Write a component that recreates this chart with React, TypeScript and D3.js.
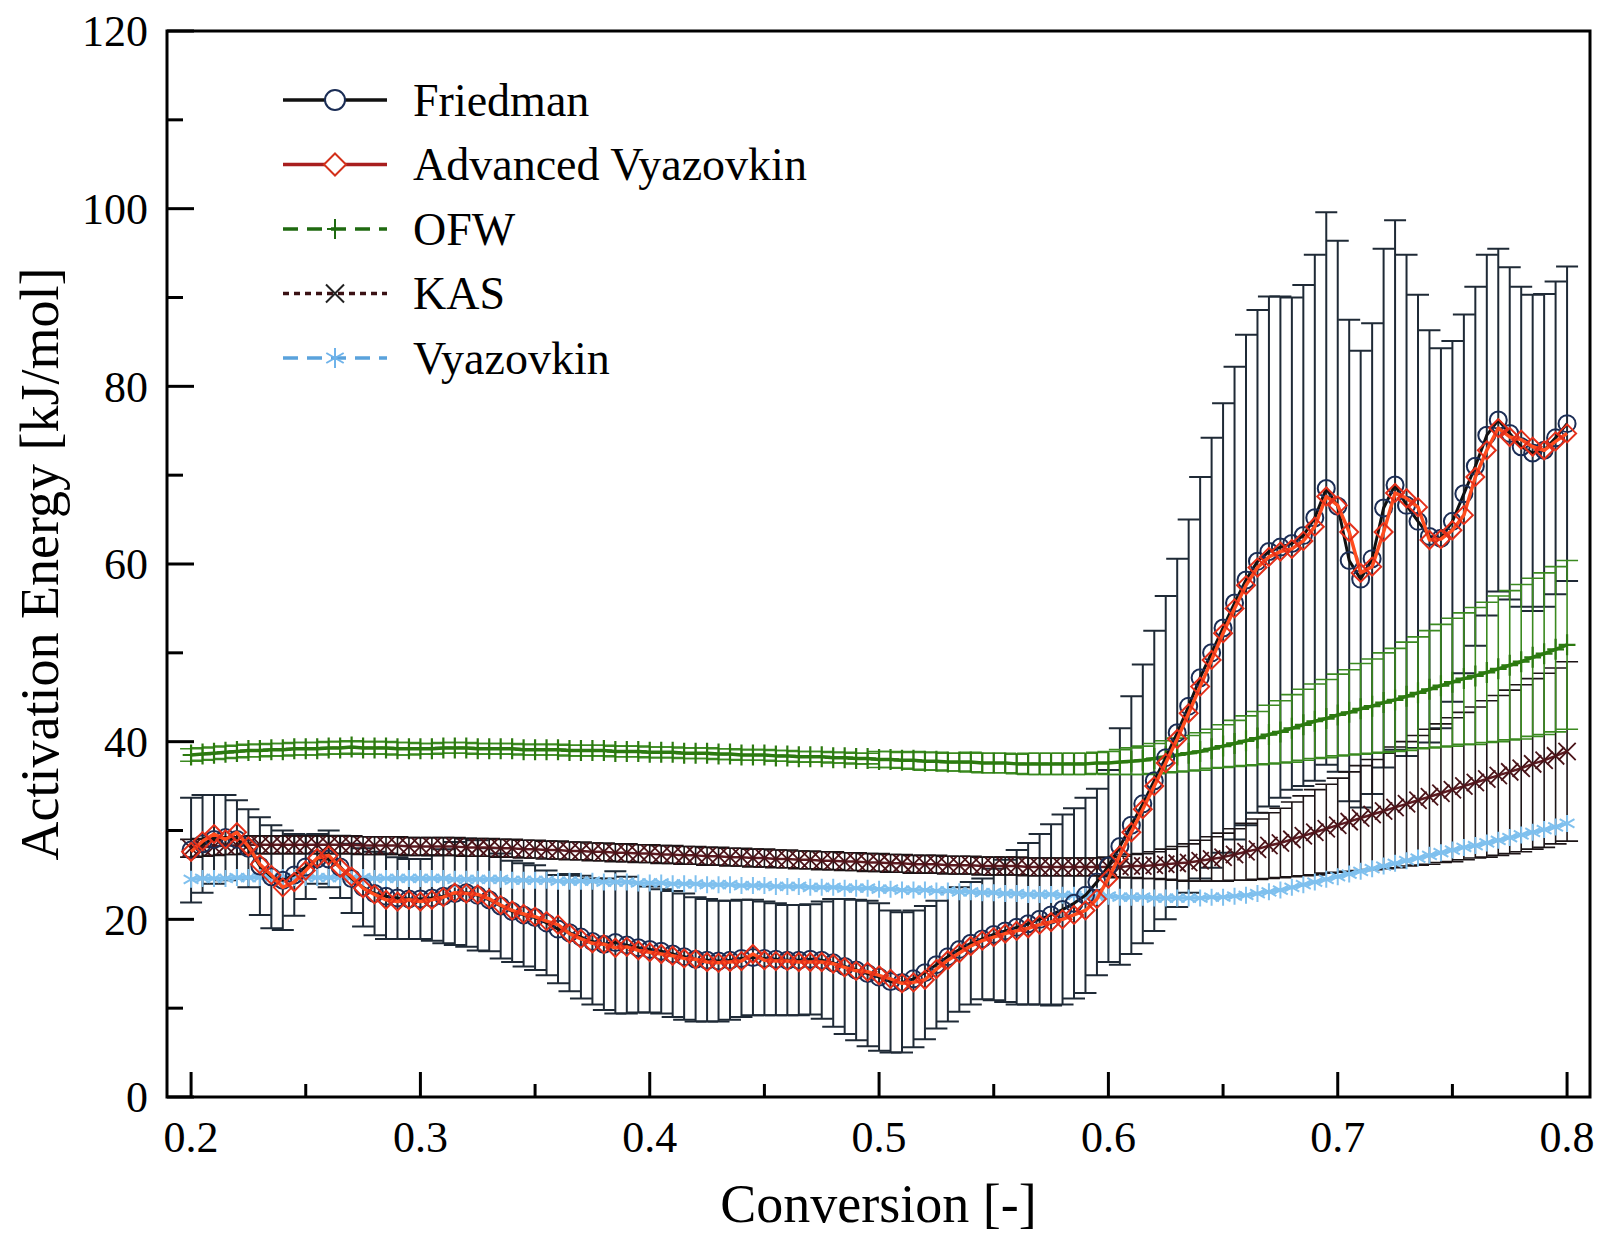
import * as d3 from "d3";
import React, { useRef, useEffect } from "react";

// conversion grid (every 0.005)
const conversion = [
  0.200, 0.205, 0.210, 0.215, 0.220, 0.225, 0.230, 0.235, 0.240, 0.245,
  0.250, 0.255, 0.260, 0.265, 0.270, 0.275, 0.280, 0.285, 0.290, 0.295,
  0.300, 0.305, 0.310, 0.315, 0.320, 0.325, 0.330, 0.335, 0.340, 0.345,
  0.350, 0.355, 0.360, 0.365, 0.370, 0.375, 0.380, 0.385, 0.390, 0.395,
  0.400, 0.405, 0.410, 0.415, 0.420, 0.425, 0.430, 0.435, 0.440, 0.445,
  0.450, 0.455, 0.460, 0.465, 0.470, 0.475, 0.480, 0.485, 0.490, 0.495,
  0.500, 0.505, 0.510, 0.515, 0.520, 0.525, 0.530, 0.535, 0.540, 0.545,
  0.550, 0.555, 0.560, 0.565, 0.570, 0.575, 0.580, 0.585, 0.590, 0.595,
  0.600, 0.605, 0.610, 0.615, 0.620, 0.625, 0.630, 0.635, 0.640, 0.645,
  0.650, 0.655, 0.660, 0.665, 0.670, 0.675, 0.680, 0.685, 0.690, 0.695,
  0.700, 0.705, 0.710, 0.715, 0.720, 0.725, 0.730, 0.735, 0.740, 0.745,
  0.750, 0.755, 0.760, 0.765, 0.770, 0.775, 0.780, 0.785, 0.790, 0.795,
  0.800,
];

const friedman = [
  27.8, 28.5, 29.0, 29.2, 29.0, 28.0, 26.0, 24.8, 24.4, 25.0,
  25.9, 26.8, 26.8, 25.9, 24.6, 23.6, 22.9, 22.6, 22.4, 22.3,
  22.3, 22.4, 22.6, 22.9, 23.0, 22.7, 22.2, 21.5, 20.9, 20.5,
  20.2, 19.6, 18.9, 18.5, 18.0, 17.5, 17.2, 17.4, 17.1, 16.8,
  16.6, 16.4, 16.1, 15.8, 15.5, 15.4, 15.3, 15.4, 15.6, 15.7,
  15.6, 15.5, 15.4, 15.4, 15.5, 15.4, 15.1, 14.7, 14.3, 13.9,
  13.5, 13.0, 12.9, 13.3, 14.0, 14.9, 15.8, 16.6, 17.3, 17.8,
  18.3, 18.7, 19.1, 19.5, 20.0, 20.5, 21.1, 21.8, 22.7, 24.2,
  26.0, 28.2, 30.6, 33.0, 35.6, 38.2, 41.0, 44.0, 47.2, 50.0,
  52.8, 55.6, 58.2, 60.3, 61.4, 61.9, 62.3, 63.2, 65.2, 68.5,
  66.5, 60.4, 58.3, 60.6, 66.3, 68.9, 66.6, 64.8, 63.1, 62.9,
  64.8, 67.9, 71.0, 74.5, 76.2, 74.7, 73.2, 72.5, 72.8, 74.2,
  75.8,
];

const friedmanErr = [
  5.9, 5.5, 5.0, 4.8, 4.4, 4.4, 5.5, 5.8, 5.6, 4.6,
  3.6, 2.8, 3.2, 3.5, 3.9, 4.4, 4.7, 4.8, 4.6, 4.5,
  4.5, 4.8, 5.3, 5.8, 6.1, 6.2, 5.8, 5.9, 5.7, 5.8,
  5.9, 5.9, 6.1, 6.6, 6.9, 7.1, 7.4, 8.0, 7.7, 7.3,
  7.1, 7.0, 7.1, 7.1, 7.0, 6.9, 6.8, 6.7, 6.6, 6.5,
  6.4, 6.3, 6.2, 6.2, 6.2, 6.6, 7.2, 7.6, 7.9, 8.2,
  8.3, 8.0, 7.9, 7.7, 7.5, 7.2, 7.3, 7.0, 6.9, 6.8,
  7.4, 8.0, 8.7, 9.1, 9.6, 10.2, 10.7, 10.7, 11.0, 10.5,
  10.8, 13.3, 14.5, 15.7, 16.9, 18.2, 19.6, 21.0, 22.6, 24.2,
  25.3, 26.6, 27.6, 28.3, 28.7, 28.2, 27.7, 28.2, 29.6, 31.1,
  29.9, 27.1, 25.7, 26.5, 29.2, 29.8, 28.2, 25.5, 23.2, 21.4,
  20.3, 20.2, 20.2, 20.3, 19.3, 18.7, 18.0, 17.8, 17.6, 17.6,
  17.7,
];

const advVyazovkin = [
  27.6, 28.8, 29.6, 29.0, 29.8, 28.2, 26.2, 25.0, 23.6, 24.2,
  25.5, 26.9, 27.2, 25.8, 24.8, 23.5, 22.8, 22.2, 22.0, 22.2,
  22.0, 22.2, 22.5, 23.0, 22.9, 22.8, 22.3, 21.6, 21.0, 20.6,
  20.3, 19.8, 19.4, 18.4, 17.8, 17.3, 17.2, 16.8, 16.9, 16.5,
  16.3, 16.1, 15.9, 15.6, 15.5, 15.2, 15.1, 15.2, 15.3, 16.1,
  15.4, 15.3, 15.3, 15.2, 15.2, 15.2, 15.0, 14.6, 14.2, 14.1,
  13.7, 13.3, 12.8, 12.9, 13.2, 14.4, 15.4, 16.2, 17.0, 17.6,
  18.0, 18.4, 18.7, 19.0, 19.4, 19.7, 20.0, 20.5, 21.0, 22.3,
  24.6, 27.2, 29.8, 32.4, 35.0, 37.6, 40.3, 43.2, 46.2, 49.2,
  52.2, 55.0, 57.6, 59.6, 60.8, 61.4, 61.7, 62.6, 64.2, 67.6,
  66.6, 63.6, 59.0, 59.7, 63.6, 68.0, 67.4, 66.4, 62.7, 62.8,
  63.8, 65.5, 69.8, 72.8, 75.3, 74.3, 74.0, 73.2, 72.8, 73.8,
  74.7,
];

const ofw = [
  38.5, 38.6, 38.7, 38.8, 38.9, 39.0, 39.0, 39.1, 39.1, 39.2,
  39.2, 39.2, 39.3, 39.3, 39.4, 39.3, 39.3, 39.3, 39.2, 39.2,
  39.2, 39.2, 39.3, 39.3, 39.3, 39.2, 39.2, 39.2, 39.2, 39.1,
  39.1, 39.1, 39.1, 39.0, 39.0, 39.0, 39.0, 38.9, 38.9, 38.9,
  38.8, 38.8, 38.8, 38.7, 38.7, 38.7, 38.6, 38.6, 38.5, 38.5,
  38.5, 38.4, 38.4, 38.3, 38.3, 38.3, 38.2, 38.2, 38.1, 38.1,
  38.0, 38.0, 37.9, 37.9, 37.8, 37.8, 37.7, 37.7, 37.7, 37.6,
  37.6, 37.6, 37.5, 37.5, 37.5, 37.5, 37.5, 37.5, 37.5, 37.6,
  37.6, 37.7, 37.8, 37.9, 38.1, 38.3, 38.5, 38.7, 38.9, 39.2,
  39.5, 39.8, 40.1, 40.4, 40.8, 41.1, 41.5, 41.9, 42.3, 42.6,
  43.0, 43.3, 43.7, 44.0, 44.4, 44.7, 45.1, 45.5, 45.9, 46.3,
  46.7, 47.1, 47.4, 47.8, 48.2, 48.6, 49.0, 49.5, 49.9, 50.4,
  50.9,
];

const ofwErr = [
  0.7, 0.7, 0.7, 0.7, 0.7, 0.7, 0.7, 0.7, 0.7, 0.7,
  0.7, 0.7, 0.7, 0.7, 0.7, 0.7, 0.7, 0.7, 0.7, 0.7,
  0.6, 0.6, 0.6, 0.6, 0.6, 0.6, 0.6, 0.6, 0.6, 0.6,
  0.6, 0.6, 0.6, 0.6, 0.6, 0.6, 0.6, 0.6, 0.6, 0.6,
  0.6, 0.6, 0.6, 0.6, 0.6, 0.6, 0.6, 0.6, 0.6, 0.6,
  0.6, 0.6, 0.6, 0.6, 0.6, 0.6, 0.6, 0.6, 0.6, 0.6,
  0.9, 0.9, 0.9, 1.0, 1.0, 1.0, 1.0, 1.0, 1.1, 1.1,
  1.1, 1.1, 1.1, 1.2, 1.2, 1.2, 1.2, 1.2, 1.2, 1.2,
  1.3, 1.4, 1.5, 1.6, 1.7, 1.8, 1.9, 2.0, 2.1, 2.2,
  2.4, 2.6, 2.8, 3.0, 3.3, 3.5, 3.8, 4.0, 4.2, 4.4,
  4.6, 4.8, 5.1, 5.3, 5.6, 5.8, 6.1, 6.3, 6.6, 6.9,
  7.2, 7.4, 7.7, 7.9, 8.2, 8.4, 8.7, 8.9, 9.1, 9.3,
  9.5,
];

const kas = [
  28.0, 28.1, 28.2, 28.3, 28.3, 28.4, 28.4, 28.4, 28.4, 28.4,
  28.4, 28.4, 28.4, 28.4, 28.4, 28.3, 28.3, 28.3, 28.3, 28.2,
  28.2, 28.2, 28.2, 28.2, 28.1, 28.1, 28.1, 28.0, 28.0, 27.9,
  27.9, 27.8, 27.8, 27.7, 27.7, 27.6, 27.6, 27.5, 27.5, 27.4,
  27.4, 27.3, 27.3, 27.2, 27.2, 27.1, 27.1, 27.0, 27.0, 26.9,
  26.9, 26.8, 26.8, 26.7, 26.7, 26.6, 26.6, 26.5, 26.5, 26.4,
  26.4, 26.3, 26.3, 26.2, 26.2, 26.2, 26.1, 26.1, 26.1, 26.0,
  26.0, 26.0, 26.0, 25.9, 25.9, 25.9, 25.9, 25.9, 25.9, 25.9,
  25.9, 25.9, 26.0, 26.0, 26.1, 26.2, 26.3, 26.4, 26.6, 26.8,
  27.0, 27.3, 27.6, 27.9, 28.3, 28.6, 29.0, 29.4, 29.8, 30.2,
  30.6, 31.0, 31.4, 31.8, 32.2, 32.6, 33.0, 33.4, 33.8, 34.2,
  34.6, 35.0, 35.4, 35.8, 36.2, 36.6, 37.0, 37.5, 37.9, 38.4,
  38.9,
];

const kasErr = [
  1.0, 1.0, 1.0, 1.0, 1.0, 1.0, 1.0, 1.0, 1.0, 1.0,
  1.0, 1.0, 1.0, 1.0, 1.0, 1.0, 1.0, 1.0, 1.0, 1.0,
  1.0, 1.0, 1.0, 1.0, 1.0, 1.0, 1.0, 1.0, 1.0, 1.0,
  1.0, 1.0, 1.0, 1.0, 1.0, 1.0, 1.0, 1.0, 1.0, 1.0,
  1.0, 1.0, 1.0, 1.0, 1.0, 1.0, 1.0, 1.0, 1.0, 1.0,
  1.0, 1.0, 1.0, 1.0, 1.0, 1.0, 1.0, 1.0, 1.0, 1.0,
  1.0, 1.0, 1.0, 1.0, 1.0, 1.0, 1.0, 1.0, 1.0, 1.0,
  1.0, 1.0, 1.0, 1.0, 1.0, 1.0, 1.0, 1.0, 1.0, 1.0,
  1.1, 1.2, 1.3, 1.4, 1.5, 1.7, 1.9, 2.1, 2.3, 2.5,
  2.7, 2.9, 3.2, 3.4, 3.7, 3.9, 4.2, 4.5, 4.8, 5.0,
  5.3, 5.6, 5.9, 6.2, 6.5, 6.8, 7.0, 7.3, 7.6, 7.8,
  8.1, 8.3, 8.5, 8.8, 9.0, 9.2, 9.4, 9.6, 9.8, 9.9,
  10.1,
];

const vyazovkin = [
  24.5, 24.6, 24.6, 24.6, 24.7, 24.7, 24.7, 24.7, 24.7, 24.7,
  24.7, 24.7, 24.7, 24.7, 24.7, 24.7, 24.6, 24.6, 24.6, 24.6,
  24.6, 24.6, 24.6, 24.5, 24.5, 24.5, 24.5, 24.5, 24.4, 24.4,
  24.4, 24.4, 24.3, 24.3, 24.3, 24.3, 24.2, 24.2, 24.2, 24.1,
  24.1, 24.1, 24.0, 24.0, 24.0, 23.9, 23.9, 23.9, 23.8, 23.8,
  23.8, 23.7, 23.7, 23.7, 23.6, 23.6, 23.6, 23.5, 23.5, 23.5,
  23.4, 23.4, 23.3, 23.3, 23.3, 23.2, 23.2, 23.1, 23.1, 23.0,
  23.0, 22.9, 22.9, 22.8, 22.8, 22.8, 22.7, 22.7, 22.6, 22.6,
  22.6, 22.5, 22.5, 22.5, 22.4, 22.4, 22.4, 22.4, 22.4, 22.5,
  22.5, 22.6, 22.7, 22.9, 23.1, 23.3, 23.6, 23.9, 24.2, 24.5,
  24.8, 25.1, 25.4, 25.7, 26.0, 26.3, 26.6, 26.9, 27.2, 27.5,
  27.8, 28.1, 28.3, 28.6, 28.9, 29.2, 29.5, 29.8, 30.1, 30.4,
  30.8,
];

const xTicks = [0.2, 0.3, 0.4, 0.5, 0.6, 0.7, 0.8];
const xMinorTicks = [0.25, 0.35, 0.45, 0.55, 0.65, 0.75];
const yTicks = [0, 20, 40, 60, 80, 100, 120];
const yMinorTicks = [10, 30, 50, 70, 90, 110];
const legendNames = ["Friedman", "Advanced Vyazovkin", "OFW", "KAS", "Vyazovkin"];

const FONT = "'Liberation Serif', 'Times New Roman', serif";

function markerPath(kind: string, r: number): string {
  switch (kind) {
    case "circle":
      return `M${r},0A${r},${r} 0 1,1 ${-r},0A${r},${r} 0 1,1 ${r},0Z`;
    case "diamond":
      return `M0,${-r}L${r},0L0,${r}L${-r},0Z`;
    case "plus":
      return `M${-r * 0.8},0H${r * 0.8}M0,${-r}V${r}`;
    case "times": {
      const a = r * 0.75;
      return `M${-a},${-a}L${a},${a}M${-a},${a}L${a},${-a}`;
    }
    default: {
      const a = r * 0.87, b = r * 0.5;
      return `M0,${-r}V${r}M${-a},${-b}L${a},${b}M${-a},${b}L${a},${-b}`;
    }
  }
}

const App: React.FC = () => {
  const svgRef = useRef<SVGSVGElement>(null);

  useEffect(() => {
    const width = 1608;
    const height = 1243;
    const left = 167, right = 1590, top = 31, bottom = 1097;

    const svg = d3.select(svgRef.current);
    svg.selectAll("*").remove();
    svg.attr("width", width).attr("height", height)
      .attr("viewBox", `0 0 ${width} ${height}`);

    svg.append("rect").attr("width", width).attr("height", height).attr("fill", "white");

    const x = d3.scaleLinear().domain([0.1895, 0.81]).range([left, right]);
    const y = d3.scaleLinear().domain([0, 120]).range([bottom, top]);

    const series = [
      { values: ofw, line: "#2c7a10", marker: "#2c7a10", shape: "plus", r: 10.5, lw: 3.5, mw: 2.2 },
      { values: kas, line: "#5c1a20", marker: "#4a1419", shape: "times", r: 11.5, lw: 2.5, mw: 1.8 },
      { values: vyazovkin, line: "#7fc0ee", marker: "#7fc0ee", shape: "asterisk", r: 8.5, lw: 3.5, mw: 2 },
      { values: friedman, line: "#111111", marker: "#1b2d55", shape: "circle", r: 8.5, lw: 3, mw: 2 },
      { values: advVyazovkin, line: "#ff4d1f", marker: "#e4301a", shape: "diamond", r: 9, lw: 3.5, mw: 2 },
    ];

    const errorBars = (vals: number[], errs: number[], color: string, w: number) => {
      const g = svg.append("g").attr("stroke", color).attr("stroke-width", w).attr("fill", "none");
      g.selectAll("path")
        .data(conversion.map((c, i) => ({ c, v: vals[i], e: errs[i] })))
        .join("path")
        .attr("d", d => {
          const px = x(d.c), y1 = y(d.v + d.e), y0 = y(d.v - d.e);
          return `M${px},${y0}V${y1}M${px - 11},${y1}H${px + 11}M${px - 11},${y0}H${px + 11}`;
        });
    };

    // error bars
    errorBars(friedman, friedmanErr, "#1f2a36", 2);
    errorBars(kas, kasErr, "#1c1416", 1.6);
    errorBars(ofw, ofwErr, "#3b8a20", 1.6);

    const line = (vals: number[]) => d3.line<number>()
      .x((_, i) => x(conversion[i]))
      .y(d => y(d))(vals);

    series.forEach(s => {
      svg.append("path")
        .attr("d", line(s.values))
        .attr("fill", "none")
        .attr("stroke", s.line)
        .attr("stroke-width", s.lw)
        .attr("stroke-linejoin", "round");
      svg.append("g")
        .selectAll("path")
        .data(s.values)
        .join("path")
        .attr("transform", (d, i) => `translate(${x(conversion[i])},${y(d)})`)
        .attr("d", markerPath(s.shape, s.r))
        .attr("fill", "none")
        .attr("stroke", s.marker)
        .attr("stroke-width", s.mw);
    });

    // frame
    svg.append("rect")
      .attr("x", left).attr("y", top)
      .attr("width", right - left).attr("height", bottom - top)
      .attr("fill", "none").attr("stroke", "black").attr("stroke-width", 3);

    const axes = svg.append("g").attr("stroke", "black").attr("stroke-width", 3);
    xTicks.forEach(t => axes.append("line").attr("x1", x(t)).attr("x2", x(t)).attr("y1", bottom).attr("y2", bottom - 25));
    xMinorTicks.forEach(t => axes.append("line").attr("x1", x(t)).attr("x2", x(t)).attr("y1", bottom).attr("y2", bottom - 13));
    yTicks.forEach(t => axes.append("line").attr("x1", left).attr("x2", left + 27).attr("y1", y(t)).attr("y2", y(t)));
    yMinorTicks.forEach(t => axes.append("line").attr("x1", left).attr("x2", left + 16).attr("y1", y(t)).attr("y2", y(t)));

    const labels = svg.append("g").attr("font-family", FONT).attr("fill", "black");
    labels.selectAll(".xl").data(xTicks).join("text")
      .attr("x", d => x(d)).attr("y", 1152)
      .attr("text-anchor", "middle").attr("font-size", 44)
      .text(d => d3.format(".1f")(d));
    labels.selectAll(".yl").data(yTicks).join("text")
      .attr("x", 148).attr("y", d => y(d)).attr("dy", "0.35em")
      .attr("text-anchor", "end").attr("font-size", 44)
      .text(d => String(d));

    labels.append("text")
      .attr("x", (left + right) / 2).attr("y", 1222)
      .attr("text-anchor", "middle").attr("font-size", 54)
      .text("Conversion [-]");
    labels.append("text")
      .attr("transform", `translate(58,${(top + bottom) / 2}) rotate(-90)`)
      .attr("text-anchor", "middle").attr("font-size", 54)
      .text("Activation Energy [kJ/mol]");

    // legend
    const legendStyle = [
      { line: "#111111", marker: "#1b2d55", shape: "circle", dash: null, r: 10 },
      { line: "#a81e1e", marker: "#d3301a", shape: "diamond", dash: null, r: 11 },
      { line: "#1f6a10", marker: "#1f6a10", shape: "plus", dash: "15,9", r: 10 },
      { line: "#3a1114", marker: "#222222", shape: "times", dash: "6,5", r: 12 },
      { line: "#5aa2dc", marker: "#6fb3ea", shape: "asterisk", dash: "15,9", r: 10 },
    ];
    const legend = svg.append("g");
    legendNames.forEach((name, i) => {
      const ly = 100 + i * 64.5;
      const st = legendStyle[i];
      legend.append("line")
        .attr("x1", 283).attr("x2", 387).attr("y1", ly).attr("y2", ly)
        .attr("stroke", st.line).attr("stroke-width", 3.5)
        .attr("stroke-dasharray", st.dash);
      legend.append("path")
        .attr("transform", `translate(335,${ly})`)
        .attr("d", markerPath(st.shape, st.r))
        .attr("fill", st.shape === "circle" || st.shape === "diamond" ? "white" : "none")
        .attr("stroke", st.marker).attr("stroke-width", 2);
      legend.append("text")
        .attr("x", 413).attr("y", ly).attr("dy", "0.34em")
        .attr("font-family", FONT).attr("font-size", 46)
        .text(name);
    });
  }, []);

  return (
    <svg ref={svgRef} style={{ position: "absolute", left: 0, top: 0 }}></svg>
  );
};

export default App;
